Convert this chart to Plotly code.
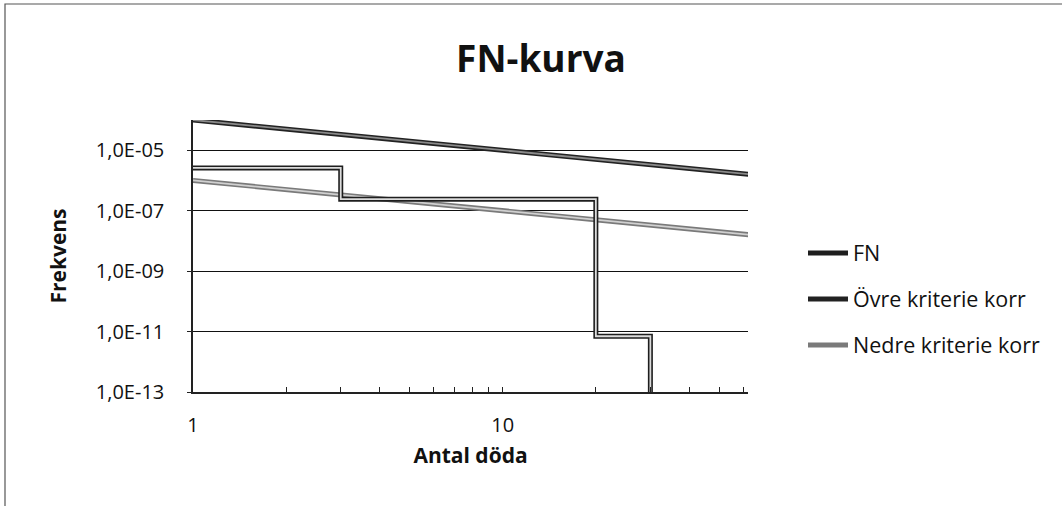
import math
import plotly.graph_objects as go

# ---- data ----
fn_n = [1, 3, 20, 30]
fn_f = [2.6e-6, 2.4e-7, 7.0e-12, 1.0e-13]

crit_n = [1, 10, 100]
ovre_f = [1e-4, 1e-5, 1e-6]
nedre_f = [1e-6, 1e-7, 1e-8]

x_tickvals = [1, 2, 3, 4, 5, 6, 7, 8, 9, 10, 20, 30, 40, 50, 60]
x_ticktext = ["1", "", "", "", "", "", "", "", "", "10", "", "", "", "", ""]
y_tickvals = [1e-13, 1e-11, 1e-9, 1e-7, 1e-5]
y_ticktext = ["1,0E-13", "1,0E-11", "1,0E-09", "1,0E-07", "1,0E-05"]

FONT = "Open Sans"

fig = go.Figure()

def add_series(x, y, name, outer, inner, legend, shape="linear"):
    fig.add_trace(go.Scatter(x=x, y=y, name=name, mode="lines",
                             line=dict(color=outer, width=5, shape=shape),
                             legend=legend, showlegend=True))
    fig.add_trace(go.Scatter(x=x, y=y, name=name, mode="lines",
                             line=dict(color=inner, width=1.8, shape=shape),
                             legend=legend, showlegend=False, hoverinfo="skip"))

add_series(crit_n, nedre_f, "Nedre kriterie korr", "#7a7a7a", "#d0d0d0", "legend3")
add_series(crit_n, ovre_f, "Övre kriterie korr", "#222222", "#8a8a8a", "legend2")
add_series(fn_n, fn_f, "FN", "#1e1e1e", "#dcdcdc", "legend", shape="hv")

legend_common = dict(font=dict(family=FONT, size=21.5, color="#111"),
                     bgcolor="rgba(0,0,0,0)", xanchor="left", yanchor="middle",
                     itemwidth=40, tracegroupgap=0)

# plot area: x 193..748, y 120..392 (px)
def py(pix):
    return (392 - pix) / 272.0

def px(pix):
    return (pix - 193) / 555.0

fig.update_layout(
    width=1062, height=506,
    margin=dict(l=193, r=1062 - 748, t=120, b=506 - 392),
    paper_bgcolor="white", plot_bgcolor="white",
    font=dict(family=FONT, color="#111"),
    title=dict(text="<b>FN-kurva</b>", x=541 / 1062, xanchor="center",
               y=1 - 59 / 506, yanchor="middle",
               font=dict(family=FONT, size=37, color="#111")),
    legend=dict(x=px(803), y=py(253), **legend_common),
    legend2=dict(x=px(803), y=py(299), **legend_common),
    legend3=dict(x=px(803), y=py(345), **legend_common),
    showlegend=True,
)

fig.update_xaxes(
    type="log", range=[0, math.log10(62)],
    tickvals=x_tickvals, ticktext=x_ticktext,
    ticks="inside", ticklen=5, tickcolor="#222", tickwidth=1,
    showgrid=False, showline=True, linecolor="#222", linewidth=1.5,
    zeroline=False, ticklabelstandoff=14,
    tickfont=dict(family=FONT, size=20, color="#111"),
    title=dict(text="<b>Antal döda</b>", standoff=12,
               font=dict(family=FONT, size=21, color="#111")),
)
fig.update_yaxes(
    type="log", range=[-13, -4],
    tickvals=y_tickvals, ticktext=y_ticktext,
    ticks="outside", ticklen=4, tickcolor="#222",
    showgrid=True, gridcolor="#111", gridwidth=1.3,
    showline=True, linecolor="#222", linewidth=1.5,
    zeroline=False, ticklabelstandoff=19,
    tickfont=dict(family=FONT, size=20, color="#111"),
    title=dict(text="<b>Frekvens</b>", standoff=23,
               font=dict(family=FONT, size=21, color="#111")),
)

# chart-area border (as in the original Excel chart frame)
fig.add_shape(type="path", xref="paper", yref="paper",
              path=f"M {px(5)} {py(510)} L {px(5)} {py(4)} L {px(1065)} {py(4)}",
              line=dict(color="#555", width=1.2))

fig.write_html("out.html", config={"displayModeBar": False},
               post_script="document.body.style.margin='0';document.body.style.padding='0';")
